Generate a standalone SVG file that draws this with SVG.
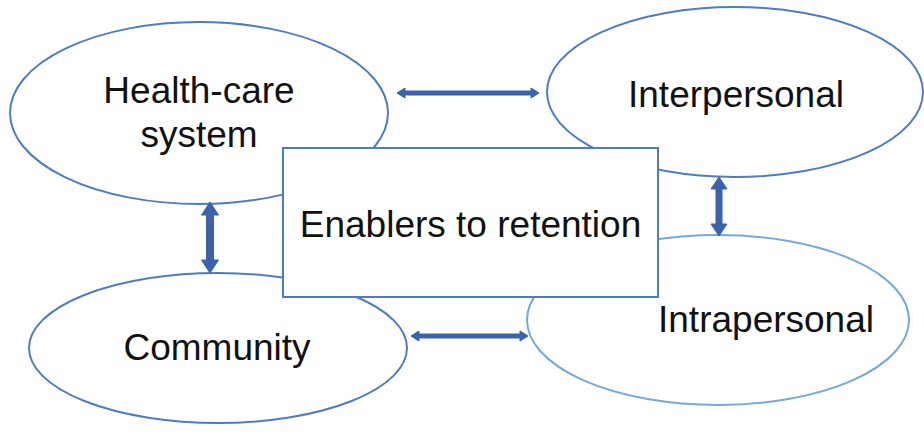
<svg xmlns="http://www.w3.org/2000/svg" width="924" height="434" viewBox="0 0 924 434">
  <style>
    .node { fill: #ffffff; stroke: #4f7bc6; stroke-width: 2; }
    .node.light { stroke: #74a9d8; }
    .label { font-family: "Liberation Sans", Arial, sans-serif; font-size: 37px; fill: #111111; text-anchor: middle; }
    .arrow { fill: #3a63ab; stroke: #3a63ab; stroke-width: 1; stroke-linejoin: round; }
  </style>
  <rect width="924" height="434" fill="#ffffff"/>

  <g id="health-care-system">
    <ellipse class="node" cx="199" cy="113" rx="189" ry="91"/>
    <text class="label" x="199" y="103">Health-care</text>
    <text class="label" x="199" y="147">system</text>
  </g>

  <g id="interpersonal">
    <ellipse class="node" cx="735" cy="92" rx="188" ry="85"/>
    <text class="label" x="736" y="107">Interpersonal</text>
  </g>

  <g id="community">
    <ellipse class="node" cx="218" cy="348" rx="189" ry="75"/>
    <text class="label" x="217" y="360">Community</text>
  </g>

  <g id="intrapersonal">
    <ellipse class="node light" cx="718" cy="320" rx="191" ry="85"/>
    <text class="label" x="766" y="332">Intrapersonal</text>
  </g>

  <g id="connectors">
    <!-- double-headed block arrows between neighbouring levels -->
    <polygon class="arrow" points="397,93 405,88 405,91 531,91 531,88 539,93 531,98 531,95 405,95 405,98"/>
    <polygon class="arrow" points="411,336 419,331 419,334 520,334 520,331 528,336 520,341 520,338 419,338 419,341"/>
    <polygon class="arrow" points="210,202 218.5,215 213.5,215 213.5,260 218.5,260 210,273 201.5,260 206.5,260 206.5,215 201.5,215"/>
    <polygon class="arrow" points="719,177 727,189 722,189 722,224 727,224 719,236 711,224 716,224 716,189 711,189"/>
  </g>

  <g id="enablers-to-retention">
    <rect class="node" x="283" y="148" width="375" height="149"/>
    <text class="label" x="470.5" y="237">Enablers to retention</text>
  </g>
</svg>
